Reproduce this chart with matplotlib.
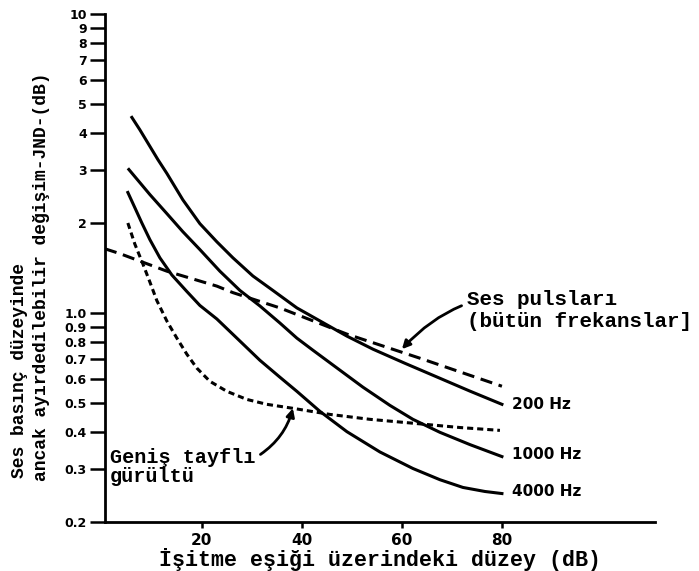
import numpy as np
import matplotlib
matplotlib.use('Agg')
import matplotlib.pyplot as plt
from matplotlib.ticker import FixedLocator, NullLocator

# curves (x: dB above threshold, y: JND in dB)
x_200 = [6.0, 7.6, 9.6, 11.2, 13.0, 16.2, 19.6, 23.0, 26.2, 30.2, 34.2,
         39.0, 44.0, 49.0, 54.2, 60.6, 67.6, 73.6, 80]
y_200 = [4.51, 4.10, 3.61, 3.26, 2.93, 2.39, 1.99, 1.73, 1.53, 1.33, 1.19,
         1.04, 0.933, 0.837, 0.757, 0.679, 0.605, 0.548, 0.495]

x_1000 = [5.4, 7.6, 9.6, 13.0, 16.2, 19.6, 23.6, 27.6, 31.6, 35.6, 39.0,
          42.2, 47.6, 52.2, 57.6, 62.2, 67.6, 73.6, 80]
y_1000 = [3.02, 2.73, 2.49, 2.15, 1.87, 1.63, 1.38, 1.19, 1.056, 0.926, 0.824,
          0.751, 0.644, 0.565, 0.491, 0.441, 0.399, 0.363, 0.331]

x_4000 = [5.2, 6.6, 8.0, 9.6, 11.6, 14.0, 17.0, 19.6, 23.0, 27.0, 31.6,
          35.6, 39.0, 43.6, 49.0, 55.6, 62.2, 67.6, 72.2, 76.6, 80]
y_4000 = [2.53, 2.25, 2.00, 1.76, 1.53, 1.34, 1.18, 1.06, 0.955, 0.824, 0.695,
          0.610, 0.547, 0.469, 0.401, 0.343, 0.302, 0.277, 0.261, 0.253, 0.249]

x_noise = [5.2, 6.6, 8.2, 9.6, 11.0, 13.0, 15.0, 17.0, 19.0, 21.6, 25.0,
           29.0, 33.0, 38.2, 45.6, 53.6, 62.2, 71.6, 79.6]
y_noise = [2.00, 1.70, 1.46, 1.27, 1.10, 0.940, 0.824, 0.728, 0.654, 0.591,
           0.547, 0.514, 0.495, 0.480, 0.458, 0.441, 0.428, 0.414, 0.405]

x_puls = [0.6, 3.6, 13, 23, 26.2, 35.6, 49, 63.6, 80]
y_puls = [1.64, 1.58, 1.38, 1.23, 1.17, 1.04, 0.85, 0.706, 0.569]

y_ticks = [0.2, 0.3, 0.4, 0.5, 0.6, 0.7, 0.8, 0.9, 1.0, 2, 3, 4, 5, 6, 7, 8, 9, 10]
y_labels = ['0.2', '0.3', '0.4', '0.5', '0.6', '0.7', '0.8', '0.9', '1.0',
            '2', '3', '4', '5', '6', '7', '8', '9', '10']
x_ticks = [20, 40, 60, 80]

mono = 'Liberation Mono'

fig = plt.figure(figsize=(6.99, 5.71), dpi=100)
ax = fig.add_axes([0.150, 0.0858, 0.787, 0.8897])

lw = 2.2
ax.plot(x_200, y_200, color='black', lw=lw)
ax.plot(x_1000, y_1000, color='black', lw=lw)
ax.plot(x_4000, y_4000, color='black', lw=lw)
ax.plot(x_noise, y_noise, color='black', lw=lw, dashes=(2.0, 1.3))
ax.plot(x_puls, y_puls, color='black', lw=lw, dashes=(4.0, 2.2))

ax.set_yscale('log')
ax.set_ylim(0.2, 10)
ax.set_xlim(0.6, 110.6)
ax.yaxis.set_major_locator(FixedLocator(y_ticks))
ax.yaxis.set_minor_locator(NullLocator())
ax.set_yticklabels(y_labels)
ax.set_xticks(x_ticks)
ax.set_xticklabels([str(v) for v in x_ticks])

for s in ['top', 'right']:
    ax.spines[s].set_visible(False)
ax.spines['left'].set_linewidth(2)
ax.spines['bottom'].set_linewidth(2)
ax.tick_params(axis='y', direction='out', length=11, width=1.8, pad=2,
               labelsize=9)
ax.tick_params(axis='x', direction='out', length=4, width=1.8, pad=4,
               labelsize=11)
for t in ax.get_yticklabels() + ax.get_xticklabels():
    t.set_fontweight('bold')

ax.set_xlabel('İşitme eşiği üzerindeki düzey (dB)', family=mono,
              fontsize=15.6, fontweight='bold', labelpad=0)

# two-line y label, lines anchored at the bottom
fig.text(20 / 699, 1 - 478 / 571, 'Ses basınç düzeyinde', rotation=90,
         ha='center', va='bottom', family=mono, fontsize=13, fontweight='bold')
fig.text(42 / 699, 1 - 481 / 571, 'ancak ayırdedilebilir değişim-JND-(dB)',
         rotation=90, ha='center', va='bottom', family=mono, fontsize=13,
         fontweight='bold')

# frequency labels
for lab, yv in [('200 Hz', 0.495), ('1000 Hz', 0.336), ('4000 Hz', 0.253)]:
    ax.text(82, yv, lab, ha='left', va='center', fontsize=11,
            fontweight='bold')

# annotations
ax.annotate('Ses pulsları\n(bütün frekanslar]', xy=(60, 0.757),
            xytext=(73, 1.02), ha='left', va='center', family=mono,
            fontsize=15, fontweight='bold', annotation_clip=False,
            arrowprops=dict(arrowstyle='-|>', color='black', lw=2,
                            connectionstyle='arc3,rad=0.35',
                            shrinkA=2, shrinkB=0, mutation_scale=12))
ax.annotate('Geniş tayflı\ngürültü', xy=(38.2, 0.48), xytext=(1.6, 0.305),
            ha='left', va='center', family=mono, fontsize=14.5,
            fontweight='bold', linespacing=1.0,
            arrowprops=dict(arrowstyle='-|>', color='black', lw=2,
                            connectionstyle='arc3,rad=0.2',
                            relpos=(1.0, 0.75),
                            shrinkA=2, shrinkB=0, mutation_scale=12))

fig.savefig('out.png', dpi=100)
